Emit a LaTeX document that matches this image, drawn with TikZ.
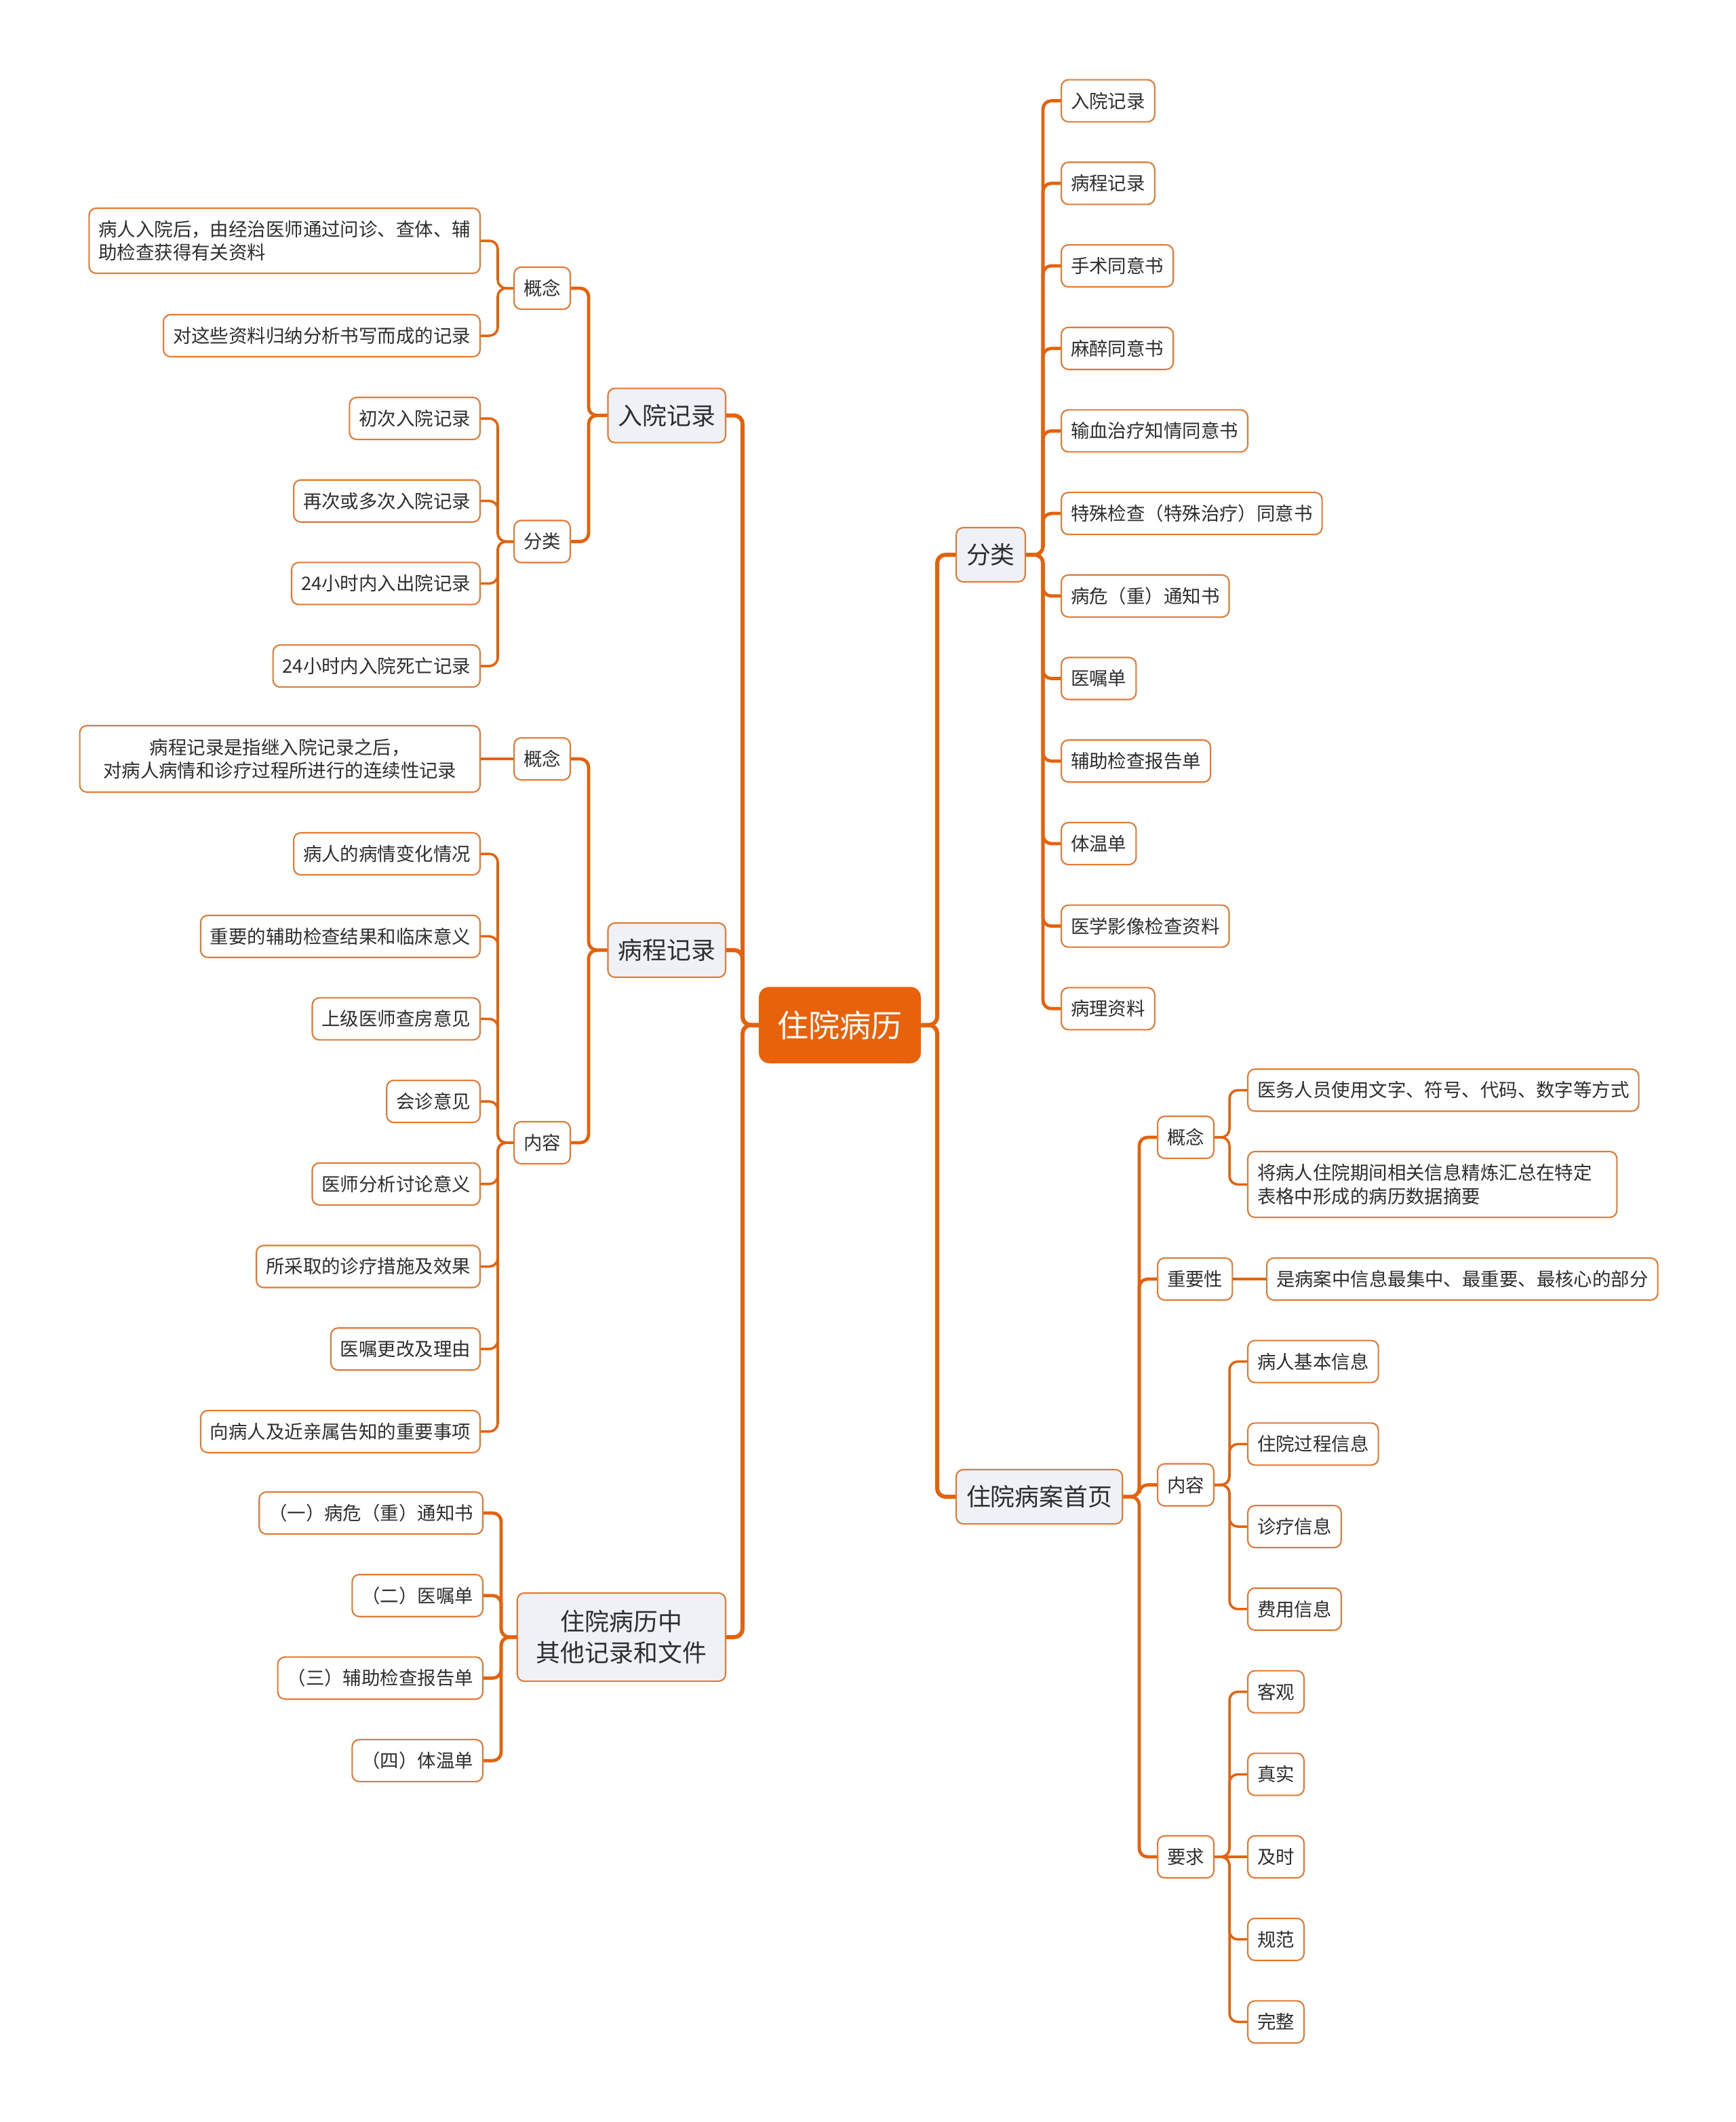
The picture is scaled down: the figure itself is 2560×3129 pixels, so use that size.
\documentclass[tikz,border=0pt]{standalone}
\usepackage{fontspec}
\setmainfont{Noto Sans CJK SC}
\usetikzlibrary{backgrounds}
\definecolor{lnc}{HTML}{E5620C}
\definecolor{brd}{HTML}{E07A35}
\definecolor{rootc}{HTML}{E8620C}
\definecolor{lvf}{HTML}{EEF1F5}
\definecolor{txt}{HTML}{2E2E2E}
\begin{document}
\begin{tikzpicture}[x=0.01cm,y=-0.01cm,
  leaf/.style={draw=brd, line width=0.6pt, rounded corners=3pt, fill=white, text=txt,
    font=\fontsize{7.8pt}{9.7pt}\selectfont, inner xsep=0.14cm, inner ysep=0pt, minimum height=0.62cm},
  lvl/.style={leaf, fill=lvf, font=\fontsize{10.2pt}{13.1pt}\selectfont, inner xsep=0.15cm, minimum height=0.80cm},
  rootbox/.style={fill=rootc, draw=rootc, rounded corners=4pt, text=white,
    font=\fontsize{13.1pt}{15pt}\selectfont, minimum width=2.37cm, minimum height=1.11cm, inner sep=0pt},
  conn/.style={draw=lnc, rounded corners=3.5pt, line cap=round},
  c0/.style={conn, line width=1.7pt},
  c1/.style={conn, line width=1.35pt},
  c2/.style={conn, line width=1.0pt}]
\useasboundingbox (0,0) rectangle (2560,3129);
\begin{pgfonlayer}{background}
\fill[white] (0,0) rectangle (2560,3129);
\end{pgfonlayer}

% bracket columns
\coordinate (tL) at (1095,0);
\coordinate (tR) at (1382,0);
\coordinate (bLa) at (868,0);
\coordinate (bLb) at (734,0);
\coordinate (bLc) at (739,0);
\coordinate (bRa) at (1538,0);
\coordinate (bRb) at (1680,0);
\coordinate (bRc) at (1813,0);

% root
\node[rootbox] (root) at (1238.5,1511.5) {住院病历};

% left level 1
\node[lvl, anchor=east] (L1) at (1071,612.6) {入院记录};
\node[lvl, anchor=east] (L2) at (1071,1401) {病程记录};
\node[lvl, anchor=east, align=center, minimum width=3.07cm, minimum height=1.30cm] (L3) at (1071,2414) {住院病历中\\其他记录和文件};

% right level 1
\node[lvl, anchor=west] (R1) at (1409,818) {分类};
\node[lvl, anchor=west] (R2) at (1409,2207) {住院病案首页};

\begin{pgfonlayer}{background}
\foreach \n in {L1,L2,L3}{\draw[c0] (root.west) -- (root.west -| tL) |- (\n.east);}
\foreach \n in {R1,R2}{\draw[c0] (root.east) -- (root.east -| tR) |- (\n.west);}
\end{pgfonlayer}

% ---- 入院记录
\node[leaf, anchor=east] (L1a) at (842,425) {概念};
\node[leaf, anchor=east] (L1b) at (842,798.5) {分类};
\begin{pgfonlayer}{background}
\foreach \n in {L1a,L1b}{\draw[c1] (L1.west) -- (L1.west -| bLa) |- (\n.east);}
\end{pgfonlayer}
\node[leaf, anchor=east, align=left, minimum height=0.96cm] (A1) at (709,355) {病人入院后，由经治医师通过问诊、查体、辅\\助检查获得有关资料};
\node[leaf, anchor=east] (A2) at (709,495) {对这些资料归纳分析书写而成的记录};
\begin{pgfonlayer}{background}
\foreach \n in {A1,A2}{\draw[c2] (L1a.west) -- (L1a.west -| bLb) |- (\n.east);}
\end{pgfonlayer}
\foreach \t [count=\i from 0] in {初次入院记录,再次或多次入院记录,24小时内入出院记录,24小时内入院死亡记录}{
  \node[leaf, anchor=east] (B\i) at (709,617+121.7*\i) {\t};
  \begin{pgfonlayer}{background}
  \draw[c2] (L1b.west) -- (L1b.west -| bLb) |- (B\i.east);
  \end{pgfonlayer}
}

% ---- 病程记录
\node[leaf, anchor=east] (L2a) at (842,1119) {概念};
\node[leaf, anchor=east] (L2b) at (842,1685) {内容};
\begin{pgfonlayer}{background}
\foreach \n in {L2a,L2b}{\draw[c1] (L2.west) -- (L2.west -| bLa) |- (\n.east);}
\end{pgfonlayer}
\node[leaf, anchor=east, align=center, minimum height=0.98cm, minimum width=5.90cm] (C1) at (709,1119) {病程记录是指继入院记录之后，\\对病人病情和诊疗过程所进行的连续性记录};
\begin{pgfonlayer}{background}
\draw[c2] (L2a.west) -- (C1.east);
\end{pgfonlayer}
\foreach \t [count=\i from 0] in {病人的病情变化情况,重要的辅助检查结果和临床意义,上级医师查房意见,会诊意见,医师分析讨论意义,所采取的诊疗措施及效果,医嘱更改及理由,向病人及近亲属告知的重要事项}{
  \node[leaf, anchor=east] (D\i) at (709,1259+121.7*\i) {\t};
  \begin{pgfonlayer}{background}
  \draw[c2] (L2b.west) -- (L2b.west -| bLb) |- (D\i.east);
  \end{pgfonlayer}
}

% ---- 其他记录和文件
\foreach \t [count=\i from 0] in {（一）病危（重）通知书,（二）医嘱单,（三）辅助检查报告单,（四）体温单}{
  \node[leaf, anchor=east] (E\i) at (713,2231+121.7*\i) {\t};
  \begin{pgfonlayer}{background}
  \draw[c1] (L3.west) -- (L3.west -| bLc) |- (E\i.east);
  \end{pgfonlayer}
}

% ---- 分类 (right)
\foreach \t [count=\i from 0] in {入院记录,病程记录,手术同意书,麻醉同意书,输血治疗知情同意书,特殊检查（特殊治疗）同意书,病危（重）通知书,医嘱单,辅助检查报告单,体温单,医学影像检查资料,病理资料}{
  \node[leaf, anchor=west] (F\i) at (1564,148.6+121.7*\i) {\t};
  \begin{pgfonlayer}{background}
  \draw[c1] (R1.east) -- (R1.east -| bRa) |- (F\i.west);
  \end{pgfonlayer}
}

% ---- 住院病案首页
\node[leaf, anchor=west] (G1) at (1706,1677) {概念};
\node[leaf, anchor=west] (G2) at (1706,1886) {重要性};
\node[leaf, anchor=west] (G3) at (1706,2189.5) {内容};
\node[leaf, anchor=west] (G4) at (1706,2738) {要求};
\begin{pgfonlayer}{background}
\foreach \n in {G1,G2,G3,G4}{\draw[c1] (R2.east) -- (R2.east -| bRb) |- (\n.west);}
\end{pgfonlayer}

\node[leaf, anchor=west, minimum width=5.76cm] (H1) at (1839,1607.5) {医务人员使用文字、符号、代码、数字等方式};
\node[leaf, anchor=west, align=left, text width=5.16cm, minimum height=0.97cm] (H2) at (1839,1746.5) {将病人住院期间相关信息精炼汇总在特定\\表格中形成的病历数据摘要};
\begin{pgfonlayer}{background}
\foreach \n in {H1,H2}{\draw[c2] (G1.east) -- (G1.east -| bRc) |- (\n.west);}
\end{pgfonlayer}

\node[leaf, anchor=west, minimum width=5.74cm] (I1) at (1867,1886) {是病案中信息最集中、最重要、最核心的部分};
\begin{pgfonlayer}{background}
\draw[c2] (G2.east) -- (I1.west);
\end{pgfonlayer}

\foreach \t [count=\i from 0] in {病人基本信息,住院过程信息,诊疗信息,费用信息}{
  \node[leaf, anchor=west] (J\i) at (1839,2007.6+121.7*\i) {\t};
  \begin{pgfonlayer}{background}
  \draw[c2] (G3.east) -- (G3.east -| bRc) |- (J\i.west);
  \end{pgfonlayer}
}

\foreach \t [count=\i from 0] in {客观,真实,及时,规范,完整}{
  \node[leaf, anchor=west] (K\i) at (1839,2494.6+121.7*\i) {\t};
}
\begin{pgfonlayer}{background}
\foreach \n in {K0,K1,K3,K4}{\draw[c2] (G4.east) -- (G4.east -| bRc) |- (\n.west);}
\draw[c2] (G4.east) -- (K2.west);
\end{pgfonlayer}
\end{tikzpicture}
\end{document}
